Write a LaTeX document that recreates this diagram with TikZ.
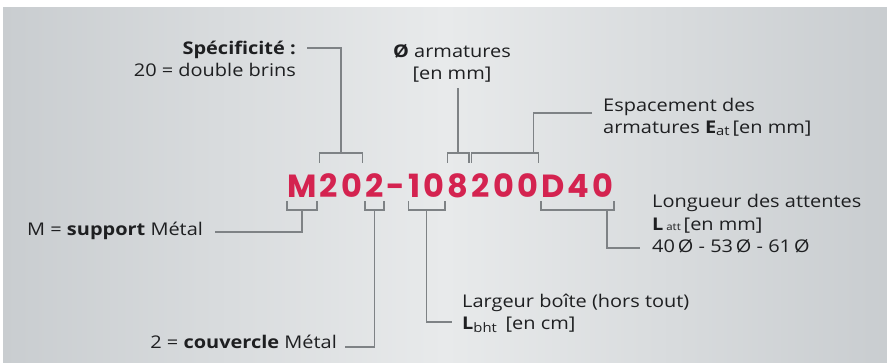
\documentclass[tikz,border=0pt]{standalone}
\usepackage{fontspec}
\setmainfont{Open Sans}[FakeStretch=1.14]
\newfontfamily\codefont{Poppins}
\usepackage{xcolor}
\usetikzlibrary{positioning,calc}

\definecolor{codered}{HTML}{D42350}
\definecolor{leadgray}{HTML}{7E8285}
\definecolor{ink}{HTML}{1E1F21}
\definecolor{paneledge}{HTML}{C9CDD0}
\definecolor{panelmid}{HTML}{E8EAEB}

\tikzset{
  lbl/.style={font=\fontsize{17.5}{22.5}\selectfont, text=ink, inner sep=0pt},
  chunk/.style={font=\codefont\bfseries\fontsize{32}{32}\selectfont, text=codered,
    inner sep=0pt, text height=23pt, text depth=0pt},
  lead/.style={draw=leadgray, line width=1.6pt},
}

\begin{document}
\begin{tikzpicture}[x=1pt,y=-1pt]
  \useasboundingbox (0,0) rectangle (887,363);
  \fill[white] (0,0) rectangle (887,363);
  \shade[left color=paneledge, right color=paneledge, middle color=panelmid]
    (3,8) rectangle (887,363);

  % code, one node per character
  \node[chunk, anchor=base west] (c1) at (287,198) {M};
  \foreach \ch [count=\i from 2] in {2,0,2,-,1,0,8,2,0,0,D,4,0}{
    \pgfmathtruncatemacro\prev{\i-1}
    \node[chunk, right=2.8pt of c\prev.base east, anchor=base west] (c\i) {\ch};
  }

  % brackets above: 20 | 8 | 200
  \foreach \a/\b in {2/3,8/8,9/11}{
    \draw[lead] ([yshift=12pt]c\a.north west) -- ([yshift=22pt]c\a.north west)
      -- ([yshift=22pt]c\b.north east) -- ([yshift=12pt]c\b.north east);
  }
  % brackets below: M | 2 | 10 | D40
  \foreach \a/\b in {1/1,4/4,6/7,12/14}{
    \draw[lead] ([yshift=-3pt]c\a.south west) -- ([yshift=-12pt]c\a.south west)
      -- ([yshift=-12pt]c\b.south east) -- ([yshift=-3pt]c\b.south east);
  }
  \coordinate (b20)  at ($([yshift=22pt]c2.north west)!0.5!([yshift=22pt]c3.north east)$);
  \coordinate (b8)   at ([yshift=22pt]c8.north);
  \coordinate (b200) at ([xshift=-5pt,yshift=22pt]c11.north east);
  \coordinate (bM)   at ([yshift=-12pt]c1.south);
  \coordinate (b2)   at ([yshift=-12pt]c4.south);
  \coordinate (b10)  at ($([yshift=-12pt]c6.south west)!0.5!([yshift=-12pt]c7.south east)$);
  \coordinate (bD40) at ([xshift=-7pt,yshift=-12pt]c14.south east);

  % labels (anchored on the baseline of their last line)
  \node[lbl, anchor=base east, align=right] (spec) at (296,77)
    {\textbf{Spécificité :}\\20 = double brins};
  \node[lbl, anchor=base, align=center] (phi) at (452,80)
    {\textbf{Ø} armatures\\{[}en mm{]}};
  \node[lbl, anchor=base west, align=left] (esp) at (603,134)
    {Espacement des\\armatures \textbf{E}\raisebox{-1.5pt}{\fontsize{13}{13}\selectfont at}\,{[}en mm{]}};
  \node[lbl, anchor=base west, align=left] (att) at (652,253)
    {Longueur des attentes\\\textbf{L}\,{\fontsize{10}{10}\selectfont att}\,{[}en mm{]}\\40\,Ø - 53\,Ø - 61\,Ø};
  \node[lbl, anchor=base west] (supp) at (27,236)
    {M = \textbf{support} Métal};
  \node[lbl, anchor=base west, align=left] (larg) at (462,330)
    {Largeur boîte (hors tout)\\\textbf{L}\raisebox{-3pt}{\fontsize{13}{13}\selectfont bht}\enspace{[}en cm{]}};
  \node[lbl, anchor=base east] (couv) at (337,349)
    {2 = \textbf{couvercle} Métal};

  % free ends near the labels
  \coordinate (specTip) at (307,48);
  \coordinate (espTip)  at (592,113);
  \coordinate (suppTip) at (215,232);
  \coordinate (couvTip) at (345,347);
  \coordinate (largTip) at (452,322);
  \coordinate (attTip)  at (640,248);

  % leaders
  \draw[lead] (specTip) -| (b20);
  \draw[lead] (b8) -- (b8 |- 0,88);
  \draw[lead] (espTip) -| (b200);
  \draw[lead] (bM) |- (suppTip);
  \draw[lead] (b2) |- (couvTip);
  \draw[lead] (b10) |- (largTip);
  \draw[lead] (bD40) |- (attTip);
\end{tikzpicture}
\end{document}
